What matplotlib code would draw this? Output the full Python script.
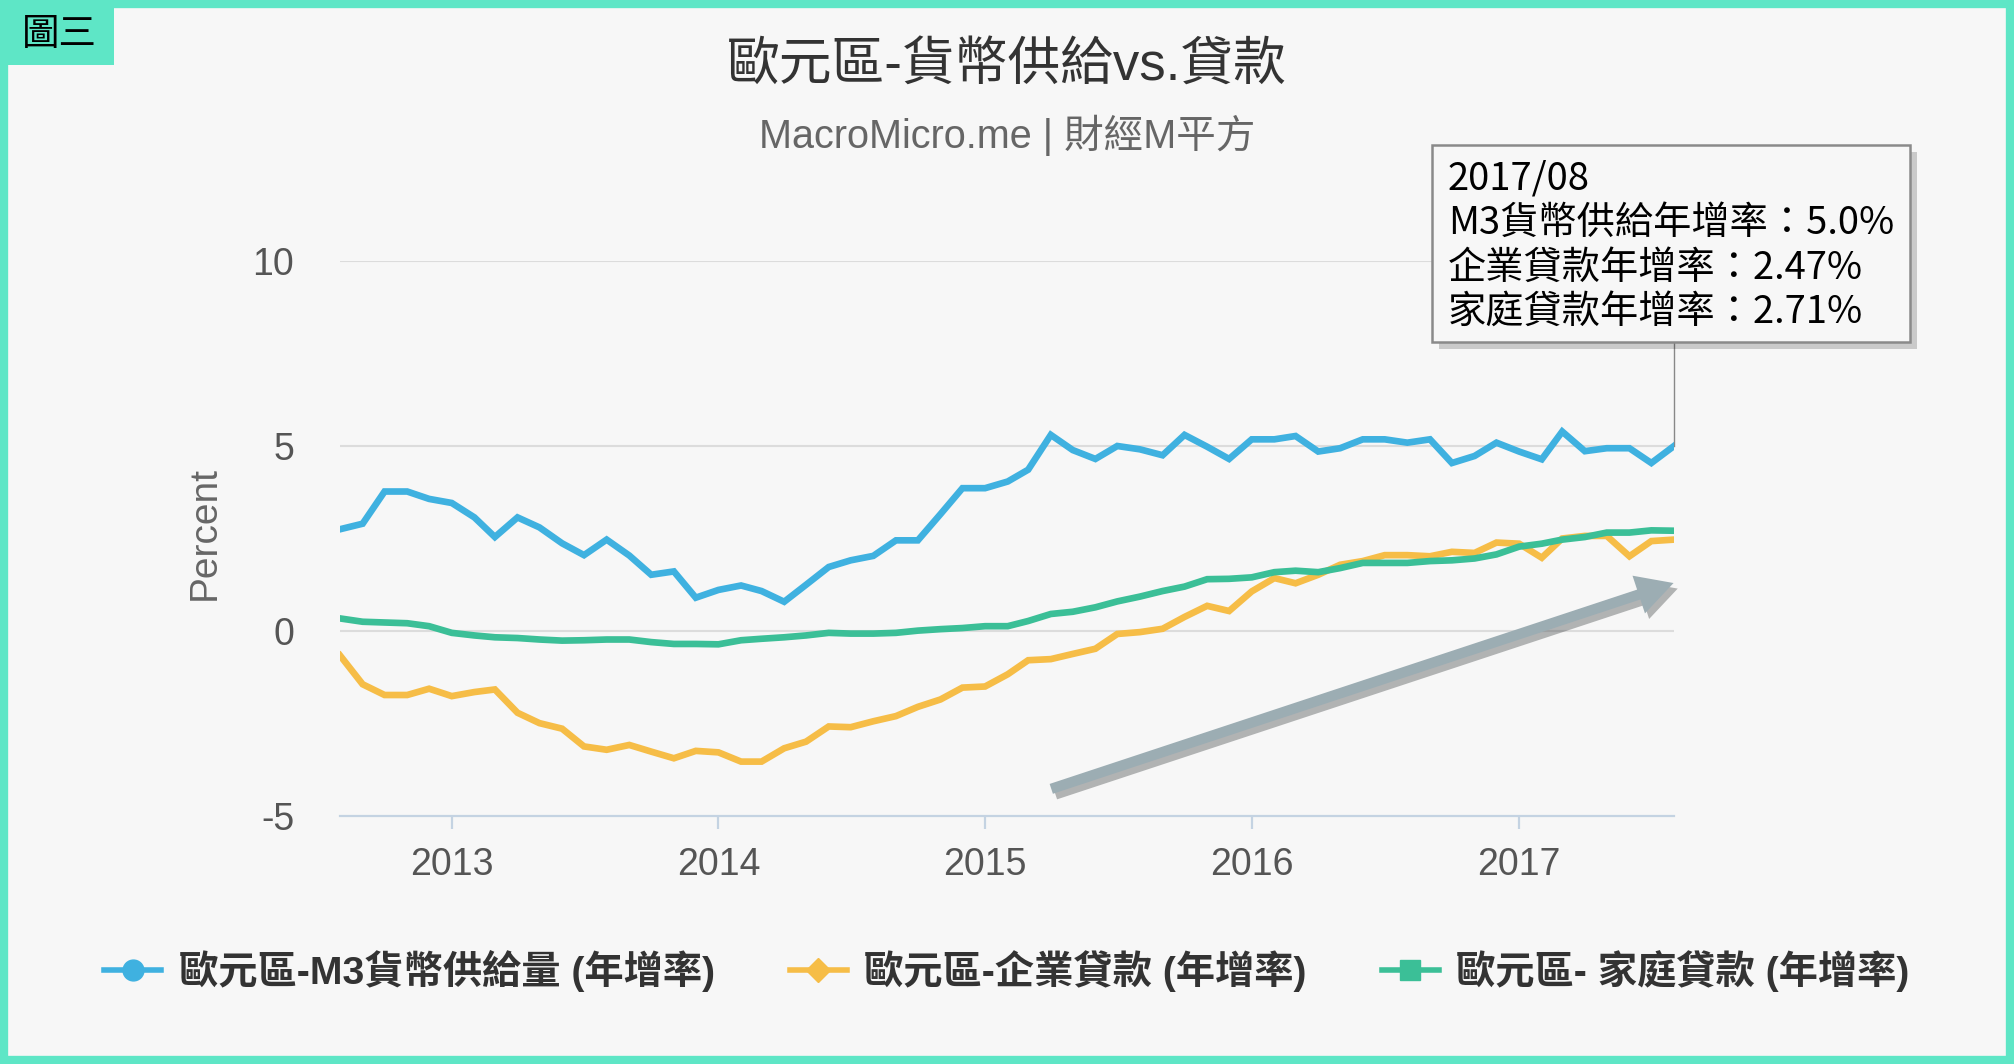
import numpy as np
import pandas as pd
import matplotlib
matplotlib.use('Agg')
import matplotlib.pyplot as plt
import matplotlib.dates as mdates
from matplotlib.lines import Line2D
from matplotlib.patches import Rectangle, FancyArrowPatch
import matplotlib.patheffects as pe

# datos mensuales 2012/08 - 2017/08
fechas = pd.date_range('2012-08-01', periods=61, freq='MS')

m3 = [2.75, 2.9, 3.77, 3.77, 3.57, 3.46, 3.07, 2.54, 3.07, 2.8,
      2.37, 2.05, 2.47, 2.04, 1.52, 1.61, 0.9, 1.11, 1.23, 1.08,
      0.79, 1.25, 1.73, 1.91, 2.03, 2.45, 2.45, 3.16, 3.86, 3.86,
      4.04, 4.36, 5.3, 4.89, 4.65, 5.0, 4.91, 4.75, 5.3, 4.98,
      4.65, 5.18, 5.18, 5.27, 4.85, 4.94, 5.18, 5.18, 5.09, 5.18,
      4.54, 4.73, 5.09, 4.85, 4.64, 5.39, 4.86, 4.94, 4.94, 4.54,
      5.0]

empresas = [-0.66, -1.44, -1.73, -1.73, -1.56, -1.76, -1.65, -1.58, -2.21, -2.49,
            -2.64, -3.12, -3.21, -3.08, -3.26, -3.44, -3.24, -3.28, -3.53, -3.53,
            -3.17, -2.99, -2.58, -2.60, -2.44, -2.30, -2.05, -1.85, -1.53, -1.5,
            -1.17, -0.79, -0.76, -0.62, -0.48, -0.08, -0.03, 0.06, 0.38, 0.68,
            0.54, 1.07, 1.43, 1.29, 1.52, 1.79, 1.89, 2.05, 2.05, 2.02,
            2.14, 2.11, 2.39, 2.36, 1.98, 2.5, 2.57, 2.57, 2.02, 2.43,
            2.47]

hogares = [0.34, 0.25, 0.23, 0.21, 0.13, -0.05, -0.12, -0.17, -0.19, -0.23,
           -0.26, -0.25, -0.23, -0.23, -0.3, -0.35, -0.35, -0.36, -0.25, -0.21,
           -0.17, -0.12, -0.05, -0.07, -0.07, -0.05, 0.01, 0.05, 0.08, 0.13,
           0.13, 0.27, 0.46, 0.52, 0.64, 0.8, 0.93, 1.08, 1.2, 1.4,
           1.41, 1.45, 1.59, 1.63, 1.59, 1.7, 1.84, 1.84, 1.84, 1.89,
           1.91, 1.96, 2.07, 2.28, 2.36, 2.47, 2.54, 2.66, 2.66, 2.72,
           2.71]

nombres = ['歐元區-M3貨幣供給量 (年增率)', '歐元區-企業貸款 (年增率)', '歐元區- 家庭貸款 (年增率)']
colores = ['#3fb1e0', '#f6bd47', '#3bbf97']
marcas = ['o', 'D', 's']

tooltip = ['2017/08', 'M3貨幣供給年增率：5.0%', '企業貸款年增率：2.47%', '家庭貸款年增率：2.71%']

cjk = ['Liberation Sans', 'Noto Sans CJK TC', 'DejaVu Sans']
plt.rcParams['font.family'] = cjk

W, H = 2014, 1064
fondo = '#f7f7f7'
fig = plt.figure(figsize=(W / 100, H / 100), dpi=100, facecolor=fondo)
ax = fig.add_axes([340 / W, 1 - 816 / H, (1674 - 340) / W, (816 - 261) / H])
ax.set_facecolor(fondo)

for serie, c in zip([m3, empresas, hogares], colores):
    ax.plot(fechas, serie, color=c, lw=4.8, solid_joinstyle='miter', zorder=3)

ax.set_xlim(fechas[0], fechas[-1])
ax.set_ylim(-5, 10)
ax.set_yticks([-5, 0, 5, 10])
ax.set_yticklabels(['-5', '0', '5', '10'])
for v in [0, 5, 10]:
    ax.axhline(v, color='#dcdcdc', lw=1.5, zorder=1)

ax.xaxis.set_major_locator(mdates.YearLocator())
ax.xaxis.set_major_formatter(mdates.DateFormatter('%Y'))

for s in ['top', 'right', 'left']:
    ax.spines[s].set_visible(False)
ax.spines['bottom'].set_color('#c4d3e2')
ax.spines['bottom'].set_linewidth(1.6)
ax.tick_params(axis='x', length=9.5, width=1.6, color='#c4d3e2', pad=13,
               labelsize=27, labelcolor='#555555')
ax.tick_params(axis='y', length=0, pad=33, labelsize=27, labelcolor='#555555')
ax.set_ylabel('Percent', fontsize=28, color='#666666')
ax.yaxis.set_label_coords(-0.088, 0.51)

# linea vertical del tooltip
ax.plot([fechas[-1], fechas[-1]], [m3[-1], 7.8], color='#888888', lw=1, zorder=2, clip_on=False)

# flecha de tendencia
flecha = FancyArrowPatch((mdates.date2num(fechas[32]) - 3, -4.29),
                         (mdates.date2num(fechas[-1]) + 3, 1.32),
                         arrowstyle='simple,head_length=1.2,head_width=1.3,tail_width=0.34',
                         mutation_scale=22, color='#9cadb3', lw=0, zorder=4, clip_on=False,
                         path_effects=[pe.SimplePatchShadow(offset=(3, -4), alpha=0.35), pe.Normal()])
ax.add_patch(flecha)

# titulos
fig.text(0.5, 1 - 66 / H, '歐元區-貨幣供給vs.貸款', ha='center', va='center',
         fontsize=38, color='#333333')
fig.text(0.5, 1 - 135 / H, 'MacroMicro.me | 財經M平方', ha='center', va='center',
         fontsize=28.5, color='#666666')

# tooltip
x0, x1, y0, y1 = 1432 / W, 1910 / W, 1 - 342 / H, 1 - 145 / H
fig.patches.append(Rectangle((x0 + 7 / W, y0 - 7 / H), x1 - x0, y1 - y0, transform=fig.transFigure,
                             facecolor='#000000', alpha=0.18, lw=0, zorder=5))
fig.patches.append(Rectangle((x0, y0), x1 - x0, y1 - y0, transform=fig.transFigure,
                             facecolor=fondo, edgecolor='#8a8a8a', lw=1.8, zorder=6))
for i, linea in enumerate(tooltip):
    fig.text(1448 / W, 1 - (179 + 44.5 * i) / H, linea, ha='left', va='center',
             fontsize=27.5, color='black', family=['Noto Sans CJK TC', 'DejaVu Sans'], zorder=7)

# leyenda
handles = [Line2D([], [], color=c, lw=4, marker=m, markersize=15 if m != 'D' else 12)
           for c, m in zip(colores, marcas)]
fig.legend(handles, nombres, loc='center', bbox_to_anchor=(0.5, 1 - 971 / H), ncol=3,
           frameon=False, handlelength=1.45, handletextpad=0.45, columnspacing=1.9,
           prop={'family': cjk, 'weight': 'bold', 'size': 28.3}, labelcolor='#333333')

# etiqueta y marco
fig.patches.append(Rectangle((0, 1 - 65 / H), 114 / W, 65 / H, transform=fig.transFigure,
                             facecolor='#5ee6c6', lw=0, zorder=8))
fig.text(59 / W, 1 - 34 / H, '圖三', ha='center', va='center', fontsize=27, color='black',
         family=['Noto Sans CJK TC'], zorder=9)
fig.patches.append(Rectangle((4 / W, 4 / H), 1 - 8 / W, 1 - 8 / H, transform=fig.transFigure,
                             facecolor='none', edgecolor='#5ee6c6', lw=6, zorder=8))

plt.savefig('out.png', dpi=100, facecolor=fondo)
